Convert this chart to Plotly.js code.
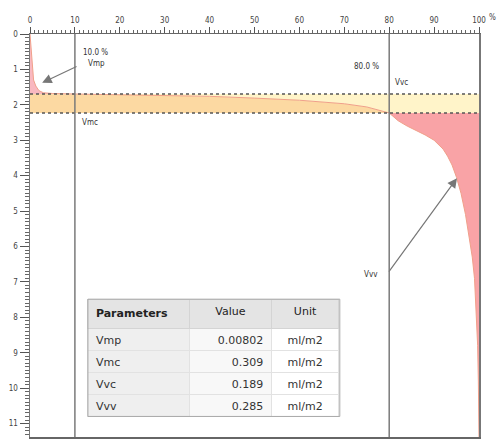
<!DOCTYPE html>
<html>
<head>
<meta charset="utf-8">
<script src="https://cdn.plot.ly/plotly-3.0.1.min.js"></script>
<style>html,body{margin:0;padding:0;background:#fff;}#chart{width:502px;height:440px;}</style>
</head>
<body>
<div id="chart"></div>
<script>
// Abbott-Firestone (material ratio) curve
const materialRatio = [0, 0.3, 0.5, 0.8, 1.3, 2.0, 3.0, 5, 10, 20, 30, 40, 50, 60, 70, 75, 80, 81, 82, 84, 86, 88, 90, 92, 93, 94, 95, 96, 97, 97.5, 98, 98.5, 99, 99.4, 99.7, 99.85, 100];
const depth = [0, 0.5, 1.0, 1.3, 1.47, 1.6, 1.66, 1.68, 1.695, 1.71, 1.73, 1.76, 1.81, 1.87, 1.97, 2.06, 2.23, 2.35, 2.45, 2.6, 2.72, 2.85, 3.0, 3.25, 3.45, 3.7, 4.05, 4.5, 5.1, 5.5, 5.9, 6.3, 6.9, 7.8, 8.8, 9.8, 11.38];

const ratioPeak = 10;     // %
const ratioValley = 80;   // %
const depthPeak = 1.695;  // depth at 10 %
const depthValley = 2.23; // depth at 80 %
const depthMax = 11.38;

const xTicks = [0, 10, 20, 30, 40, 50, 60, 70, 80, 90, 100];
const xTickText = ['0', '10', '20', '30', '40', '50', '60', '70', '80', '90', '100'];
const yTicks = [0, 1, 2, 3, 4, 5, 6, 7, 8, 9, 10, 11];

const paramNames = ['Vmp', 'Vmc', 'Vvc', 'Vvv'];
const paramValues = ['0.00802', '0.309', '0.189', '0.285'];
const paramUnits = ['ml/m2', 'ml/m2', 'ml/m2', 'ml/m2'];

// build fill polygons from the curve
const pts = materialRatio.map((x, i) => [x, depth[i]]);
const peakPts = pts.filter(p => p[0] <= ratioPeak);
const corePts = pts.filter(p => p[0] >= ratioPeak && p[0] <= ratioValley);
const valleyPts = pts.filter(p => p[0] >= ratioValley);

const vmpPoly = peakPts.concat([[0, depthPeak]]);
const vmcPoly = [[0, depthPeak]].concat(corePts, [[0, depthValley]]);
const vvcPoly = [[100, depthPeak], [100, depthValley]].concat(corePts.slice().reverse());
const vvvPoly = valleyPts.concat([[100, depthValley]]);

function polyTrace(poly, color) {
  return {
    type: 'scatter', mode: 'lines', x: poly.map(p => p[0]), y: poly.map(p => p[1]),
    fill: 'toself', fillcolor: color, line: {width: 0}, hoverinfo: 'skip', showlegend: false
  };
}

const traces = [
  polyTrace(vmpPoly, '#F9B8C0'),
  polyTrace(vmcPoly, '#FCD9A2'),
  polyTrace(vvcPoly, '#FFF4C9'),
  polyTrace(vvvPoly, '#F9A3A6'),
  {type: 'scatter', mode: 'lines', x: materialRatio, y: depth, line: {color: '#F0A08A', width: 1}, hoverinfo: 'skip', showlegend: false},
  {
    type: 'table',
    domain: {x: [0.129, 0.690], y: [0.02, 0.342]},
    columnwidth: [102, 82, 68],
    header: {
      values: ['<b>Parameters</b>', 'Value', 'Unit'],
      align: ['left', 'center', 'center'],
      fill: {color: '#E4E4E4'},
      line: {color: '#D4D4D4', width: 1},
      font: {family: 'DejaVu Sans', size: 11, color: '#222'},
      height: 14
    },
    cells: {
      values: [paramNames, paramValues, paramUnits],
      align: ['left', 'right', 'center'],
      fill: {color: ['#EFEFEF', '#F8F8F8', '#FFFFFF']},
      line: {color: '#E2E2E2', width: 1},
      font: {family: 'DejaVu Sans', size: 11, color: '#333'},
      height: 22
    }
  }
];

const tickFont = {family: 'DejaVu Sans Condensed, DejaVu Sans', size: 8, color: '#444'};
const annFont = {family: 'DejaVu Sans Condensed, DejaVu Sans', size: 8, color: '#333'};

const layout = {
  width: 502, height: 440,
  margin: {l: 30, r: 23, t: 34, b: 3, pad: 0},
  paper_bgcolor: '#fff', plot_bgcolor: '#fff',
  showlegend: false,
  xaxis: {
    side: 'top', range: [0, 100], tickmode: 'array', tickvals: xTicks, ticktext: xTickText,
    showgrid: false, zeroline: false, showline: true, mirror: true, linecolor: '#666', linewidth: 1.5,
    ticks: 'outside', ticklen: 6, tickcolor: '#555', tickwidth: 1, tickfont: tickFont,
    minor: {dtick: 1, ticks: 'outside', ticklen: 3, tickcolor: '#666', showgrid: false},
    fixedrange: true
  },
  yaxis: {
    range: [depthMax, 0], tickmode: 'array', tickvals: yTicks,
    showgrid: false, zeroline: false, showline: true, mirror: true, linecolor: '#777', linewidth: 1.5,
    ticks: 'outside', ticklen: 9, tickcolor: '#555', tickwidth: 1, tickfont: tickFont,
    minor: {dtick: 0.1, ticks: 'outside', ticklen: 4, tickcolor: '#666', showgrid: false},
    fixedrange: true
  },
  shapes: [
    {type: 'line', xref: 'x', yref: 'y', x0: 0, x1: 100, y0: depthPeak, y1: depthPeak, line: {color: '#555', width: 1.5, dash: 'dot'}},
    {type: 'line', xref: 'x', yref: 'y', x0: 0, x1: 100, y0: depthValley, y1: depthValley, line: {color: '#555', width: 1.5, dash: 'dot'}},
    {type: 'line', xref: 'x', yref: 'y', x0: ratioPeak, x1: ratioPeak, y0: 0, y1: depthMax, line: {color: '#7a7a7a', width: 1.5}},
    {type: 'line', xref: 'x', yref: 'y', x0: ratioValley, x1: ratioValley, y0: 0, y1: depthMax, line: {color: '#7a7a7a', width: 1.5}},
    {type: 'rect', xref: 'paper', yref: 'paper', x0: 0.129, x1: 0.690, y0: 0.051, y1: 0.342, line: {color: '#A8A8A8', width: 1}}
  ],
  annotations: [
    {xref: 'paper', yref: 'paper', x: 1.03, y: 1.025, text: '%', showarrow: false, xanchor: 'center', yanchor: 'bottom', font: tickFont},
    {x: 11.4, y: 0.51, text: '10.0 %', showarrow: false, xanchor: 'left', yanchor: 'middle', font: annFont},
    {x: 12.5, y: 0.82, text: 'Vmp', showarrow: false, xanchor: 'left', yanchor: 'middle', font: annFont},
    {x: 78.2, y: 0.93, text: '80.0 %', showarrow: false, xanchor: 'right', yanchor: 'middle', font: annFont},
    {x: 80.8, y: 1.36, text: 'Vvc', showarrow: false, xanchor: 'left', yanchor: 'middle', font: annFont},
    {x: 11.1, y: 2.49, text: 'Vmc', showarrow: false, xanchor: 'left', yanchor: 'middle', font: annFont},
    {x: 78.0, y: 6.78, text: 'Vvv', showarrow: false, xanchor: 'right', yanchor: 'middle', font: annFont},
    {x: 2.7, y: 1.38, ax: 10.7, ay: 0.90, axref: 'x', ayref: 'y', text: '', showarrow: true, arrowhead: 2, arrowsize: 1.6, arrowwidth: 1.2, arrowcolor: '#777'},
    {x: 95.1, y: 4.07, ax: 79.7, ay: 6.75, axref: 'x', ayref: 'y', text: '', showarrow: true, arrowhead: 2, arrowsize: 1.6, arrowwidth: 1.2, arrowcolor: '#777'}
  ]
};

Plotly.newPlot('chart', traces, layout, {displayModeBar: false, staticPlot: true});
</script>
</body>
</html>
